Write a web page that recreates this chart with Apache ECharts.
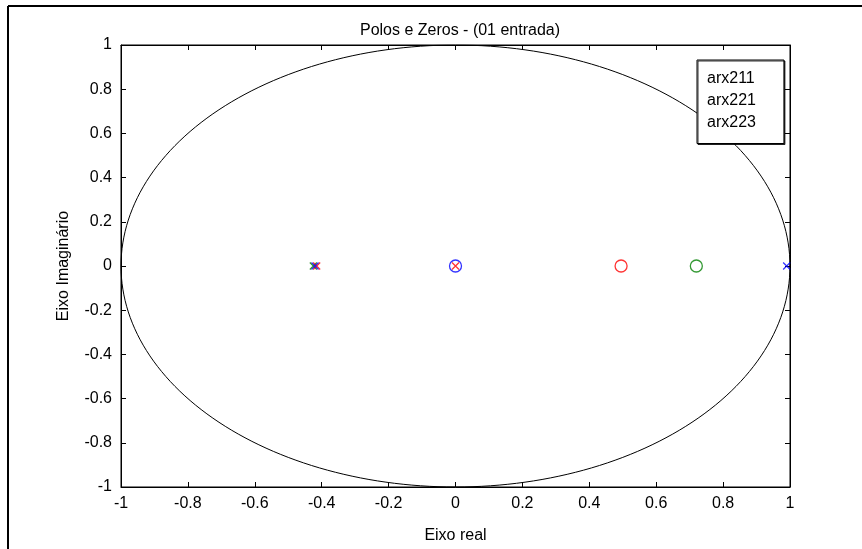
<!DOCTYPE html>
<html>
<head>
<meta charset="utf-8">
<script src="https://cdn.jsdelivr.net/npm/echarts@6/dist/echarts.min.js"></script>
<style>html,body{margin:0;padding:0;background:#fff}#c{width:862px;height:549px}</style>
</head>
<body>
<div id="c"></div>
<script>
// ---- data ----
const seriesNames = ['arx211', 'arx221', 'arx223'];
const arx211Poles = [[-0.42, 0], [0.99, 0]];
const arx211Zeros = [[0, 0]];
const arx221Poles = [[-0.425, 0]];
const arx221Zeros = [[0.72, 0]];
const arx223Poles = [[-0.415, 0], [0, 0]];
const arx223Zeros = [[0.495, 0]];
const axisMin = -1, axisMax = 1, axisStep = 0.2;
// unit circle reference (stability boundary)
const circleSteps = 240;
const unitCircle = [];
for (let i = 0; i <= circleSteps; i++) {
  const a = 2 * Math.PI * i / circleSteps;
  unitCircle.push([Math.cos(a), Math.sin(a)]);
}

const FONT = 'Liberation Sans, Arial, sans-serif';
const FS = 16;
const xMark = 'path://M0,0L10,10M10,0L0,10';
function poles(name, color, data) {
  return {name, type: 'scatter', data, symbol: xMark, symbolSize: 7,
    itemStyle: {color: 'none', borderColor: color, borderWidth: 1.3}, z: 4};
}
function zeros(name, color, data) {
  return {name, type: 'scatter', data, symbol: 'circle', symbolSize: 12,
    itemStyle: {color: 'none', borderColor: color, borderWidth: 1.3}, z: 3};
}
const fmt = v => Math.abs(v) < 1e-9 ? '0' : String(Math.round(v * 10) / 10);
const baseX = {type: 'value', min: axisMin, max: axisMax, interval: axisStep,
  axisLine: {show: true, onZero: false, lineStyle: {color: '#000', width: 1}},
  axisTick: {show: true, inside: true, length: 5, lineStyle: {color: '#000'}},
  splitLine: {show: false}};
const chart = echarts.init(document.getElementById('c'), null, {renderer: 'canvas'});
chart.setOption({
  animation: false,
  backgroundColor: '#fff',
  textStyle: {fontFamily: FONT},
  title: {text: 'Polos e Zeros - (01 entrada)', left: 455, top: 18, textAlign: 'center',
    textStyle: {fontFamily: FONT, fontSize: FS, fontWeight: 'normal', color: '#000'}},
  grid: {left: 121, top: 45, width: 669, height: 445, show: true, borderColor: '#000', borderWidth: 1},
  legend: {data: seriesNames, orient: 'vertical', left: 697, top: 60,
    icon: 'none', itemWidth: 0, itemHeight: 17, itemGap: 5.5,
    padding: [10, 28, 13, 5], backgroundColor: '#fff', borderColor: '#000', borderWidth: 1,
    shadowColor: 'rgba(0,0,0,0.8)', shadowOffsetX: 1, shadowOffsetY: 1, shadowBlur: 0,
    selectedMode: false,
    textStyle: {fontFamily: FONT, fontSize: FS, color: '#000'}},
  xAxis: [
    Object.assign({}, baseX, {position: 'bottom', name: 'Eixo real', nameLocation: 'middle', nameGap: 41,
      nameTextStyle: {fontFamily: FONT, fontSize: FS, color: '#000'},
      axisLabel: {formatter: fmt, margin: 9, fontFamily: FONT, fontSize: FS, color: '#000'}}),
    Object.assign({}, baseX, {position: 'top', axisLabel: {show: false}})
  ],
  yAxis: [
    Object.assign({}, baseX, {position: 'left', name: 'Eixo Imaginário', nameLocation: 'middle', nameGap: 49,
      nameTextStyle: {fontFamily: FONT, fontSize: FS, color: '#000'},
      axisLabel: {formatter: fmt, margin: 9, fontFamily: FONT, fontSize: FS, color: '#000'}}),
    Object.assign({}, baseX, {position: 'right', axisLabel: {show: false}})
  ],
  graphic: [
    {type: 'line', shape: {x1: 8, y1: 6, x2: 862, y2: 6}, style: {stroke: '#000', lineWidth: 2}},
    {type: 'line', shape: {x1: 8, y1: 6, x2: 8, y2: 549}, style: {stroke: '#000', lineWidth: 2}}
  ],
  series: [
    {type: 'line', data: unitCircle, showSymbol: false, symbol: 'none', silent: true,
      lineStyle: {color: '#000', width: 1}, z: 2},
    zeros('arx211', '#0000ff', arx211Zeros),
    poles('arx221', '#008000', arx221Poles),
    zeros('arx221', '#008000', arx221Zeros),
    poles('arx223', '#ff0000', arx223Poles),
    zeros('arx223', '#ff0000', arx223Zeros),
    poles('arx211', '#0000ff', arx211Poles)
  ]
});
</script>
</body>
</html>
